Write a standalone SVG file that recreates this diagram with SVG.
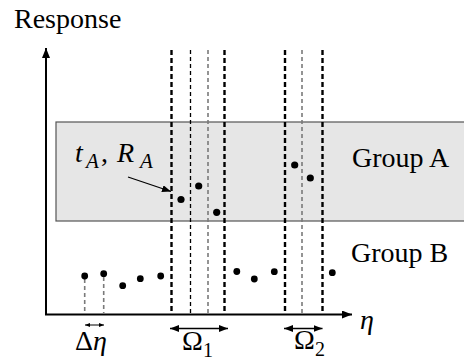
<svg xmlns="http://www.w3.org/2000/svg" width="464" height="360" viewBox="0 0 464 360">
  <defs>
    <marker id="ah" markerUnits="userSpaceOnUse" markerWidth="10" markerHeight="8" refX="10" refY="4" orient="auto">
      <path d="M0,0 L10,4 L0,8 Z" fill="#000"/>
    </marker>
    <marker id="ahm" markerUnits="userSpaceOnUse" markerWidth="9" markerHeight="7" refX="9" refY="3.5" orient="auto-start-reverse">
      <path d="M0,0 L9,3.5 L0,7 Z" fill="#000"/>
    </marker>
    <marker id="ahs" markerUnits="userSpaceOnUse" markerWidth="5" markerHeight="4" refX="5" refY="2" orient="auto-start-reverse">
      <path d="M0,0 L5,2 L0,4 Z" fill="#000"/>
    </marker>
  </defs>
  <style>
    text { font-family: "Liberation Serif", "Times New Roman", serif; fill: #000; }
    .lbl { font-size: 28px; }
    .it { font-style: italic; }
    .dot { fill: #000; }
    .thick { stroke: #000; stroke-width: 2.4; stroke-dasharray: 5 3; }
    .thin { stroke: #000; stroke-width: 1.3; stroke-dasharray: 4 3; }
    .gray { stroke: #7a7a7a; stroke-width: 1.6; stroke-dasharray: 4 3; }
    .axis { stroke: #000; stroke-width: 2; fill: none; }
  </style>

  <g id="groupA">
    <rect x="56" y="122" width="420" height="99" fill="#e6e6e6" stroke="#555" stroke-width="1.2"/>
    <text class="lbl" x="352" y="167">Group A</text>
  </g>
  <g id="groupB">
    <text class="lbl" x="351" y="262">Group B</text>
  </g>

  <g id="windows">
    <line class="thick" x1="171.5" y1="50" x2="171.5" y2="313"/>
    <line class="thin" x1="190.5" y1="50" x2="190.5" y2="313"/>
    <line class="gray" x1="208" y1="50" x2="208" y2="313"/>
    <line class="thick" x1="224.5" y1="50" x2="224.5" y2="313"/>
    <line class="thick" x1="285" y1="50" x2="285" y2="313"/>
    <line class="gray" x1="302" y1="50" x2="302" y2="313"/>
    <line class="thick" x1="322.5" y1="50" x2="322.5" y2="313"/>
    <line class="gray" x1="84.7" y1="279" x2="84.7" y2="313"/>
    <line class="gray" x1="103.7" y1="277" x2="103.7" y2="313"/>
  </g>

  <g id="axes">
    <line class="axis" x1="46" y1="315" x2="46" y2="48" marker-end="url(#ah)"/>
    <line class="axis" x1="45" y1="314.5" x2="352" y2="314.5" marker-end="url(#ah)"/>
    <text class="lbl" x="14" y="28">Response</text>
    <text class="lbl it" x="360" y="329">η</text>
  </g>

  <g id="points">
    <circle class="dot" cx="181" cy="199.5" r="3.6"/>
    <circle class="dot" cx="198.7" cy="186" r="3.6"/>
    <circle class="dot" cx="216.7" cy="212.3" r="3.6"/>
    <circle class="dot" cx="294.7" cy="165" r="3.6"/>
    <circle class="dot" cx="310.3" cy="178" r="3.6"/>
    <circle class="dot" cx="84.7" cy="276" r="3.4"/>
    <circle class="dot" cx="103.7" cy="273.7" r="3.4"/>
    <circle class="dot" cx="122.7" cy="285.7" r="3.4"/>
    <circle class="dot" cx="140.3" cy="278.7" r="3.4"/>
    <circle class="dot" cx="160.7" cy="276" r="3.4"/>
    <circle class="dot" cx="236.8" cy="271.5" r="3.4"/>
    <circle class="dot" cx="254.3" cy="279" r="3.4"/>
    <circle class="dot" cx="274.3" cy="271.7" r="3.4"/>
    <circle class="dot" cx="332.3" cy="272.7" r="3.4"/>
  </g>

  <g id="label-tR">
    <text class="lbl it" x="75" y="162">t</text>
    <text class="it" x="86" y="168" font-size="21">A</text>
    <text class="lbl" x="101" y="162">,</text>
    <text class="lbl it" x="117" y="162">R</text>
    <text class="it" x="140" y="168" font-size="21">A</text>
  </g>

  <g id="connectors">
    <line x1="128" y1="177" x2="171" y2="191.5" stroke="#000" stroke-width="1.3" marker-end="url(#ahm)"/>
    <line x1="85" y1="325" x2="104" y2="325" stroke="#000" stroke-width="1" marker-start="url(#ahs)" marker-end="url(#ahs)"/>
    <line x1="170" y1="328.5" x2="228" y2="328.5" stroke="#000" stroke-width="1.5" marker-start="url(#ahm)" marker-end="url(#ahm)"/>
    <line x1="284" y1="328.5" x2="322.5" y2="328.5" stroke="#000" stroke-width="1.5" marker-start="url(#ahm)" marker-end="url(#ahm)"/>
  </g>

  <g id="label-delta">
    <text class="lbl" x="75" y="350">Δ<tspan class="it">η</tspan></text>
  </g>
  <g id="label-omega1">
    <text class="lbl" x="182" y="350">Ω</text>
    <text x="203" y="357" font-size="20">1</text>
  </g>
  <g id="label-omega2">
    <text class="lbl" x="294" y="349">Ω</text>
    <text x="315" y="356" font-size="20">2</text>
  </g>
</svg>
